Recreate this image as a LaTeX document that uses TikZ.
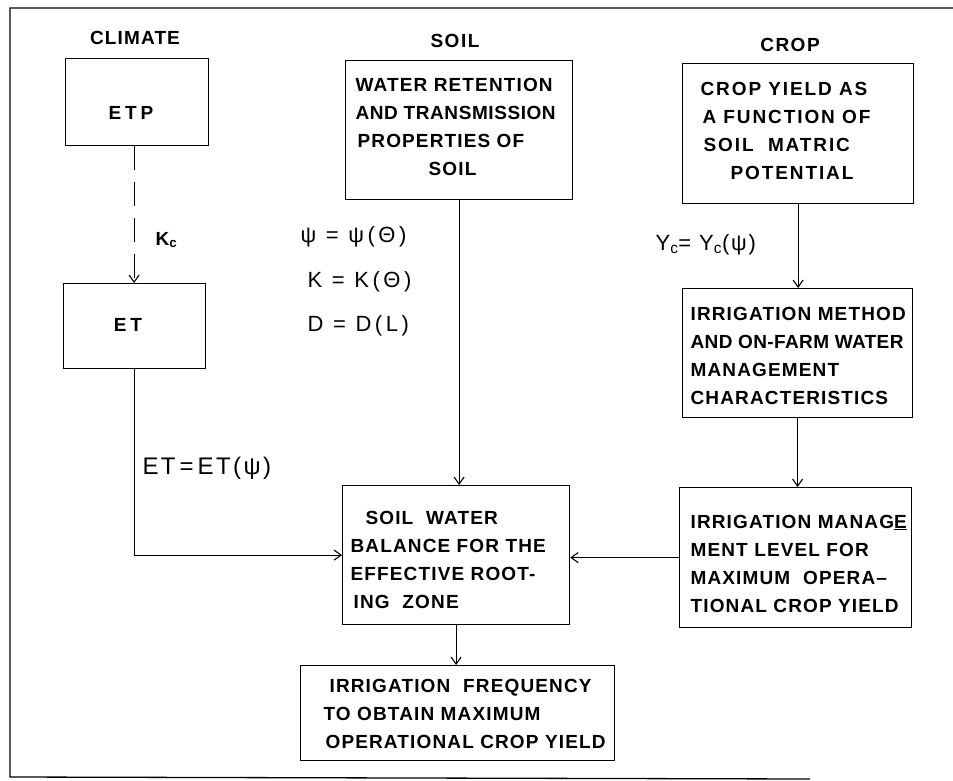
\documentclass[tikz,border=0pt]{standalone}
\usepackage{fontspec}
\setmainfont{Liberation Sans}[LetterSpace=6]
\usetikzlibrary{arrows.meta}
\newcommand\bxfont{\fontsize{19}{28}\selectfont\bfseries}
\newcommand\eqfont{\fontsize{22}{26}\selectfont\addfontfeatures{LetterSpace=16}}
\newcommand\etfont{\fontsize{24}{28}\selectfont\addfontfeatures{LetterSpace=10}}
\newcommand\lsp[2]{{\addfontfeatures{LetterSpace=#1}#2}}
\begin{document}
\begin{tikzpicture}[x=1pt,y=-1pt,line width=1.2pt,
  box/.style={draw, rectangle, inner sep=0pt, anchor=north west},
  txt/.style={inner sep=0pt, align=left, anchor=west, font=\bxfont},
  lbl/.style={inner sep=0pt, font=\bxfont},
  eq/.style={inner sep=0pt, anchor=west, font=\eqfont},
  arr/.style={-{Straight Barb[length=7pt,width=10pt]}, line width=1.1pt}]
\useasboundingbox (0,0) rectangle (953,781);
% frame
\draw[line width=1.3pt] (953,8) -- (10,8) -- (10,777) -- (810,779);
% titles
\node[lbl] (climate) at (135,38) {CLIMATE};
\node[lbl] (soilhd) at (455,41) {\lsp{8}{SOIL}};
\node[lbl] (crophd) at (790,45) {\lsp{8}{CROP}};
% boxes
\node[box, minimum width=143pt, minimum height=87pt] (etp) at (65,58) {};
\node[lbl] (etptxt) at (131,113) {\lsp{20}{ETP}};
\node[box, minimum width=142pt, minimum height=85pt] (et) at (63,283) {};
\node[lbl] (ettxt) at (128,325) {\lsp{20}{ET}};
\node[box, minimum width=227pt, minimum height=139pt] (soil) at (345,60) {};
\node[txt] (soiltxt) at (355,126.5) {WATER RETENTION\\\lsp{3}{AND TRANSMISSION}\\\hspace*{2pt}PROPERTIES OF\\\hspace*{73pt}SOIL};
\node[box, minimum width=231pt, minimum height=140pt] (crop) at (682,63) {};
\node[txt] (croptxt) at (700,131) {\lsp{10}{CROP YIELD AS}\\\hspace*{2pt}\lsp{10}{A FUNCTION OF}\\\hspace*{3pt}\lsp{10}{SOIL\ \ MATRIC}\\\hspace*{30pt}\lsp{10}{POTENTIAL}};
\node[box, minimum width=230pt, minimum height=129pt] (method) at (682,288) {};
\node[txt] (methodtxt) at (690,355.5) {IRRIGATION METHOD\\\lsp{2}{AND ON-FARM WATER}\\MANAGEMENT\\CHARACTERISTICS};
\node[box, minimum width=232pt, minimum height=140pt] (mgmt) at (679,487) {};
\node[txt] (mgmttxt) at (690,563.5) {IRRIGATION MANAG\underline{E}\\MENT LEVEL FOR\\MAXIMUM\ \ OPERA–\\TIONAL CROP YIELD};
\node[box, minimum width=227pt, minimum height=139pt] (wb) at (342,485) {};
\node[txt] (wbtxt) at (350,560) {\hspace*{15pt}SOIL\ \ WATER\\BALANCE FOR THE\\EFFECTIVE ROOT-\\\hspace*{3pt}ING\ \ ZONE};
\node[box, minimum width=314pt, minimum height=95pt] (final) at (300,665) {};
\node[txt] (finaltxt) at (323,713.5) {\hspace*{6pt}IRRIGATION\ \ FREQUENCY\\TO OBTAIN MAXIMUM\\\hspace*{2pt}OPERATIONAL CROP YIELD};
% equations
\node[lbl, anchor=west] (kc) at (155,240) {K\textsubscript{c}};
\node[eq] (eqpsi) at (300,237) {ψ = ψ(Θ)};
\node[eq] (eqk) at (307,282) {K = K(Θ)};
\node[eq] (eqd) at (307,326) {D = D(L)};
\node[eq, font=\fontsize{22}{26}\selectfont\addfontfeatures{LetterSpace=8}] (eqyc) at (655,245) {Y\textsubscript{c}= Y\textsubscript{c}(ψ)};
\node[inner sep=0pt, anchor=west, font=\etfont] (eqet) at (142,468) {ET\,=\,ET(ψ)};
% connectors
\draw[arr, dash pattern=on 24pt off 12pt] ([xshift=-3pt]etp.south) -- ([xshift=-3pt]etp.south |- et.north);
\draw[arr] (et.south) |- (wb.west);
\draw[arr] (soil.south) -- (soil.south |- wb.north);
\draw[arr] (crop.south) -- (crop.south |- method.north);
\draw[arr] (method.south) -- (method.south |- mgmt.north);
\draw[arr] (mgmt.west) -- (mgmt.west -| wb.east);
\draw[arr] (wb.south) -- (wb.south |- final.north);
\end{tikzpicture}
\end{document}
